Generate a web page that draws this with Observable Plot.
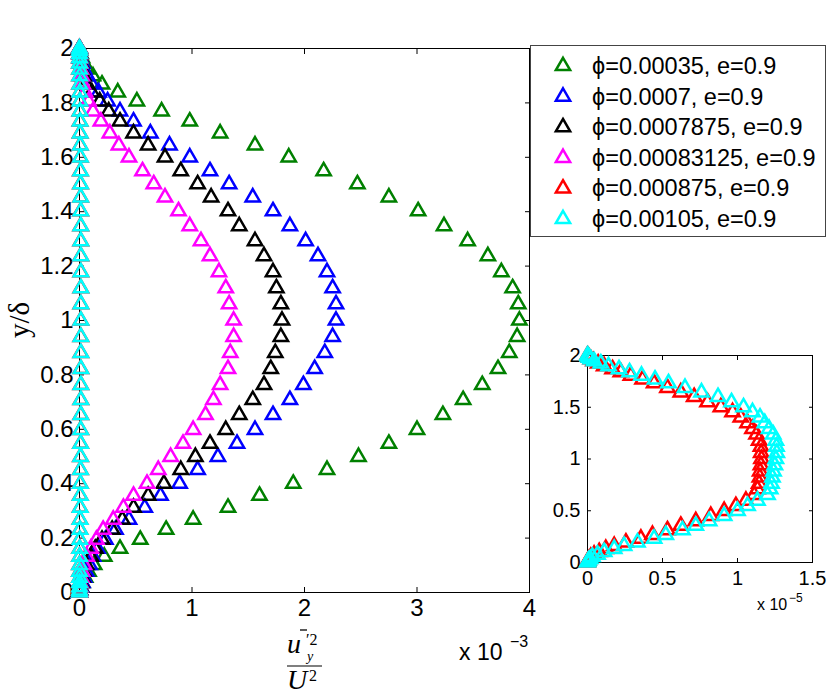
<!DOCTYPE html>
<html><head><meta charset="utf-8">
<script src="https://cdn.jsdelivr.net/npm/d3@7"></script>
<script src="https://cdn.jsdelivr.net/npm/@observablehq/plot@0.6"></script>
<style>
body{margin:0;background:#fff;}
#fig{position:relative;width:830px;height:699px;overflow:hidden;background:#fff;font-family:"Liberation Sans",Arial,sans-serif;}
#fig > svg{position:absolute;}
</style></head><body><div id="fig"></div>
<script>
// wall-normal positions y/delta (shared by all series)
const yGrid = [0,0.008,0.02,0.035,0.055,0.077,0.102,0.132,0.161,0.194,0.231,0.268,0.312,0.356,0.40,0.451,0.499,0.547,0.598,0.653,0.708,0.763,0.822,0.881,0.94,1.0,1.06,1.119,1.178,1.237,1.292,1.347,1.402,1.453,1.501,1.549,1.60,1.644,1.688,1.732,1.769,1.806,1.839,1.868,1.898,1.923,1.945,1.965,1.98,1.992,2.0];
// main plot series, x in units of 1e-3
const greenX = [0,0.003,0.012,0.025,0.05,0.08,0.13,0.22,0.36,0.54,0.77,1.01,1.32,1.60,1.90,2.20,2.48,2.75,3.00,3.23,3.41,3.58,3.72,3.82,3.89,3.91,3.90,3.85,3.75,3.63,3.45,3.24,3.01,2.75,2.47,2.17,1.86,1.56,1.25,0.98,0.73,0.51,0.34,0.20,0.12,0.07,0.04,0.022,0.01,0.003,0];
const blueX = [0,0.004,0.012,0.025,0.04,0.06,0.09,0.12,0.16,0.23,0.32,0.44,0.58,0.72,0.89,1.05,1.23,1.40,1.56,1.72,1.87,1.99,2.09,2.18,2.25,2.28,2.28,2.25,2.20,2.12,2.01,1.87,1.72,1.54,1.33,1.16,0.98,0.80,0.63,0.48,0.36,0.25,0.17,0.11,0.07,0.04,0.025,0.012,0.006,0.002,0];
const blackX = [0,0.003,0.008,0.015,0.025,0.035,0.06,0.10,0.14,0.20,0.29,0.38,0.48,0.61,0.75,0.90,1.03,1.16,1.30,1.42,1.54,1.64,1.70,1.74,1.79,1.80,1.79,1.75,1.72,1.64,1.56,1.42,1.32,1.17,1.05,0.90,0.76,0.61,0.48,0.36,0.26,0.18,0.11,0.06,0.035,0.02,0.012,0.006,0.003,0.001,0];
const magentaX = [0,0.001,0.004,0.008,0.015,0.025,0.04,0.065,0.10,0.15,0.21,0.30,0.39,0.48,0.60,0.70,0.81,0.92,1.01,1.12,1.19,1.25,1.32,1.34,1.37,1.37,1.33,1.30,1.24,1.16,1.08,0.98,0.88,0.76,0.66,0.56,0.44,0.35,0.27,0.19,0.12,0.08,0.05,0.03,0.02,0.012,0.006,0.003,0.001,0,0];
// inset series, x in units of 1e-5
const redX = [0,0.002,0.004,0.011,0.022,0.044,0.078,0.122,0.178,0.256,0.356,0.433,0.533,0.622,0.722,0.822,0.911,0.989,1.056,1.111,1.133,1.144,1.149,1.151,1.156,1.16,1.158,1.156,1.144,1.127,1.10,1.067,1.022,0.967,0.889,0.80,0.711,0.622,0.533,0.444,0.367,0.289,0.222,0.167,0.111,0.071,0.04,0.022,0.011,0.004,0];
const cyanX = [0,0.002,0.007,0.018,0.033,0.067,0.111,0.178,0.244,0.333,0.444,0.522,0.633,0.722,0.811,0.911,1.0,1.067,1.133,1.20,1.218,1.227,1.233,1.24,1.249,1.256,1.262,1.26,1.256,1.238,1.211,1.182,1.15,1.10,1.04,0.96,0.87,0.76,0.65,0.54,0.45,0.36,0.28,0.21,0.14,0.089,0.044,0.022,0.011,0.004,0];

const labels = ["\u03D5=0.00035, e=0.9","\u03D5=0.0007, e=0.9","\u03D5=0.0007875, e=0.9","\u03D5=0.00083125, e=0.9","\u03D5=0.000875, e=0.9","\u03D5=0.00105, e=0.9"];
const colors = ["#008000","#0000ff","#000000","#ff00ff","#ff0000","#00ffff"];
const mainXTicks = [0,1,2,3,4];
const mainYTicks = [0,0.2,0.4,0.6,0.8,1,1.2,1.4,1.6,1.8,2];
const insetXTicks = [0,0.5,1,1.5];
const insetYTicks = [0,0.5,1,1.5,2];

const toMilli = a => a.map(v => v / 100); // 1e-5 units -> 1e-3 units
const mainSeries = [greenX, blueX, blackX, magentaX, toMilli(redX), toMilli(cyanX)];
const insetSeries = [[redX, colors[4]], [cyanX, colors[5]]];

const R = 5.3, SW = 2.5;
const fig = document.getElementById("fig");

const main = Plot.plot({
  width: 830, height: 699,
  marginLeft: 79, marginRight: 301, marginTop: 48, marginBottom: 107,
  x: {domain: [0, 4]}, y: {domain: [0, 2]},
  style: {fontFamily: "'Liberation Sans', Arial, sans-serif", color: "#000", background: "transparent", overflow: "visible"},
  marks: [
    Plot.frame({stroke: "#000", strokeWidth: 1}),
    Plot.axisX(mainXTicks, {anchor: "bottom", tickSize: -5, tickPadding: 11, fontSize: 24, label: null, tickFormat: d => String(d)}),
    Plot.axisX(mainXTicks, {anchor: "top", tickSize: -5, label: null, tickFormat: () => ""}),
    Plot.axisY(mainYTicks, {anchor: "left", tickSize: -5, tickPadding: 11, fontSize: 24, label: null, tickFormat: d => String(d)}),
    Plot.axisY(mainYTicks, {anchor: "right", tickSize: -5, label: null, tickFormat: () => ""}),
    ...mainSeries.map((xs, i) => Plot.dot(yGrid, {x: xs, y: yGrid, symbol: "triangle", r: R, stroke: colors[i], strokeWidth: SW, fill: "none"}))
  ]
});
main.style.left = "0px"; main.style.top = "0px";
fig.appendChild(main);

const inset = Plot.plot({
  width: 290, height: 290,
  marginLeft: 47, marginRight: 18, marginTop: 15, marginBottom: 68,
  x: {domain: [0, 1.5]}, y: {domain: [0, 2]},
  style: {fontFamily: "'Liberation Sans', Arial, sans-serif", color: "#000", background: "transparent", overflow: "visible"},
  marks: [
    Plot.frame({stroke: "#000", strokeWidth: 1}),
    Plot.axisX(insetXTicks, {anchor: "bottom", tickSize: -4, tickPadding: 12, fontSize: 20, label: null, tickFormat: d => String(d)}),
    Plot.axisX(insetXTicks, {anchor: "top", tickSize: -4, label: null, tickFormat: () => ""}),
    Plot.axisY(insetYTicks, {anchor: "left", tickSize: -4, tickPadding: 11, fontSize: 20, label: null, tickFormat: d => String(d)}),
    Plot.axisY(insetYTicks, {anchor: "right", tickSize: -4, label: null, tickFormat: () => ""}),
    ...insetSeries.map(([xs, c]) => Plot.dot(yGrid, {x: xs, y: yGrid, symbol: "triangle", r: R, stroke: c, strokeWidth: SW, fill: "none"}))
  ]
});
inset.style.left = "540px"; inset.style.top = "340px";
fig.appendChild(inset);

// overlay: legend and axis labels
const svg = d3.select(fig).append("svg")
  .attr("width", 830).attr("height", 699)
  .style("left", "0px").style("top", "0px")
  .style("font-family", "'Liberation Sans', Arial, sans-serif");

// legend
const lg = svg.append("g");
lg.append("rect").attr("x", 530.5).attr("y", 45.5).attr("width", 295).attr("height", 191)
  .attr("fill", "#fff").attr("stroke", "#444").attr("stroke-width", 1);
const tri = d3.symbol(d3.symbolTriangle, Math.PI * R * R);
labels.forEach((t, i) => {
  const cy = 66 + i * 30.6;
  lg.append("path").attr("d", tri()).attr("transform", `translate(563,${cy})`)
    .attr("fill", "none").attr("stroke", colors[i]).attr("stroke-width", SW);
  lg.append("text").attr("x", 592).attr("y", cy + 8).attr("font-size", 23.5).attr("fill", "#000").text(t);
});

// y label
svg.append("text").attr("transform", "translate(29,320) rotate(-90)")
  .attr("text-anchor", "middle").attr("font-family", "'Liberation Serif', 'Times New Roman', serif")
  .attr("font-size", 29).text("y/\u03B4");

// x label: overline(u_y'^2) / U^2
const serif = "'Liberation Serif', 'Times New Roman', serif";
const xl = svg.append("g").attr("font-family", serif).attr("font-style", "italic").attr("fill", "#000");
xl.append("text").attr("x", 287).attr("y", 653).attr("font-size", 28).text("u");
xl.append("line").attr("x1", 300).attr("x2", 307).attr("y1", 630).attr("y2", 630).attr("stroke", "#000").attr("stroke-width", 1.3);
xl.append("text").attr("x", 306).attr("y", 645).attr("font-size", 16).attr("font-style", "normal").text("\u20322");
xl.append("text").attr("x", 307).attr("y", 661).attr("font-size", 14).text("y");
xl.append("line").attr("x1", 287).attr("x2", 322).attr("y1", 666).attr("y2", 666).attr("stroke", "#000").attr("stroke-width", 1.2);
xl.append("text").attr("x", 287).attr("y", 689).attr("font-size", 28).text("U");
xl.append("text").attr("x", 309).attr("y", 681).attr("font-size", 16).attr("font-style", "normal").text("2");

// exponent labels
svg.append("text").attr("x", 459).attr("y", 660).attr("font-size", 23).text("x 10");
svg.append("text").attr("x", 510).attr("y", 647).attr("font-size", 16).text("\u22123");
svg.append("text").attr("x", 757).attr("y", 610).attr("font-size", 16).text("x 10");
svg.append("text").attr("x", 789).attr("y", 602).attr("font-size", 12).text("\u22125");
</script></body></html>
